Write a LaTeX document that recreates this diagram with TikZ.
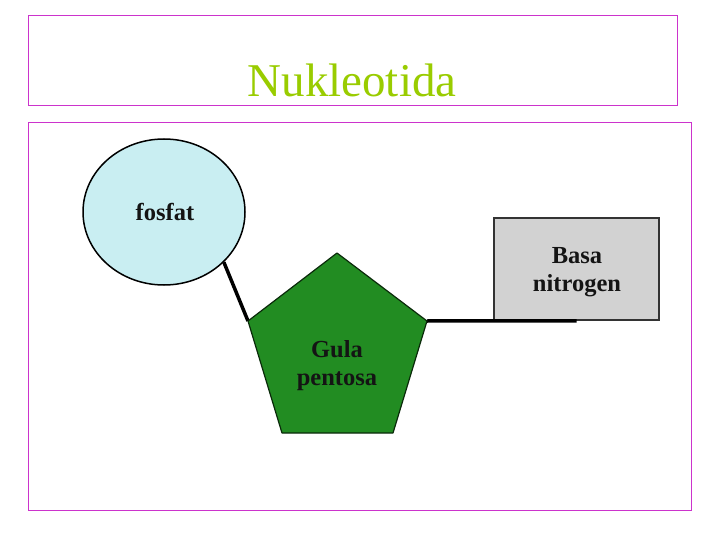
\documentclass[tikz,border=0pt]{standalone}
\usepackage{fontspec}
\setmainfont{Liberation Serif}
\usetikzlibrary{shapes.geometric}
\definecolor{frame}{RGB}{204,51,204}
\definecolor{titlegreen}{RGB}{153,204,0}
\definecolor{cyanfill}{RGB}{201,238,242}
\definecolor{pentgreen}{RGB}{34,140,34}
\definecolor{boxgray}{RGB}{210,210,210}
\definecolor{txt}{RGB}{20,20,20}
\tikzset{
  framebox/.style={draw=frame, line width=1pt},
  conn/.style={draw=black, line width=3.5pt},
  lbl/.style={font=\fontsize{24.5}{28}\selectfont\bfseries, text=txt, align=center},
}
\begin{document}
\begin{tikzpicture}[x=1pt,y=-1pt]
\useasboundingbox (0,0) rectangle (720,540);
% frames
\draw[framebox] (28,16) rectangle (677,106);
\draw[framebox] (28,123) rectangle (691,510);
\node[font=\fontsize{47}{50}\selectfont, text=titlegreen] (title) at (352,80) {Nukleotida};
% pentagon
\coordinate (pt) at (337,253);
\coordinate (pl) at (248,321);
\coordinate (pr) at (427,321);
\coordinate (pbr) at (393,433);
\coordinate (pbl) at (282,433);
% box
\node[draw=black!80, line width=1.5pt, fill=boxgray, minimum width=165, minimum height=102, inner sep=0pt] (basa) at (576.5,269) {};
\node[lbl] (basatxt) at (577,272) {Basa\\nitrogen};
% ellipse
\node[ellipse, draw=black, line width=1.5pt, fill=cyanfill, minimum width=162, minimum height=146, inner sep=0pt] (fos) at (164,212) {};
\node[lbl] (fostxt) at (165,212) {fosfat};
% connectors
\draw[conn] (fos.-40) -- (pl);
\draw[conn] (pr) -- (basa.south);
\draw[fill=pentgreen, draw=black!70!pentgreen, line width=1.2pt, line join=round] (pt) -- (pr) -- (pbr) -- (pbl) -- (pl) -- cycle;
\node[lbl] (gula) at (337,366) {Gula\\pentosa};
\end{tikzpicture}
\end{document}
